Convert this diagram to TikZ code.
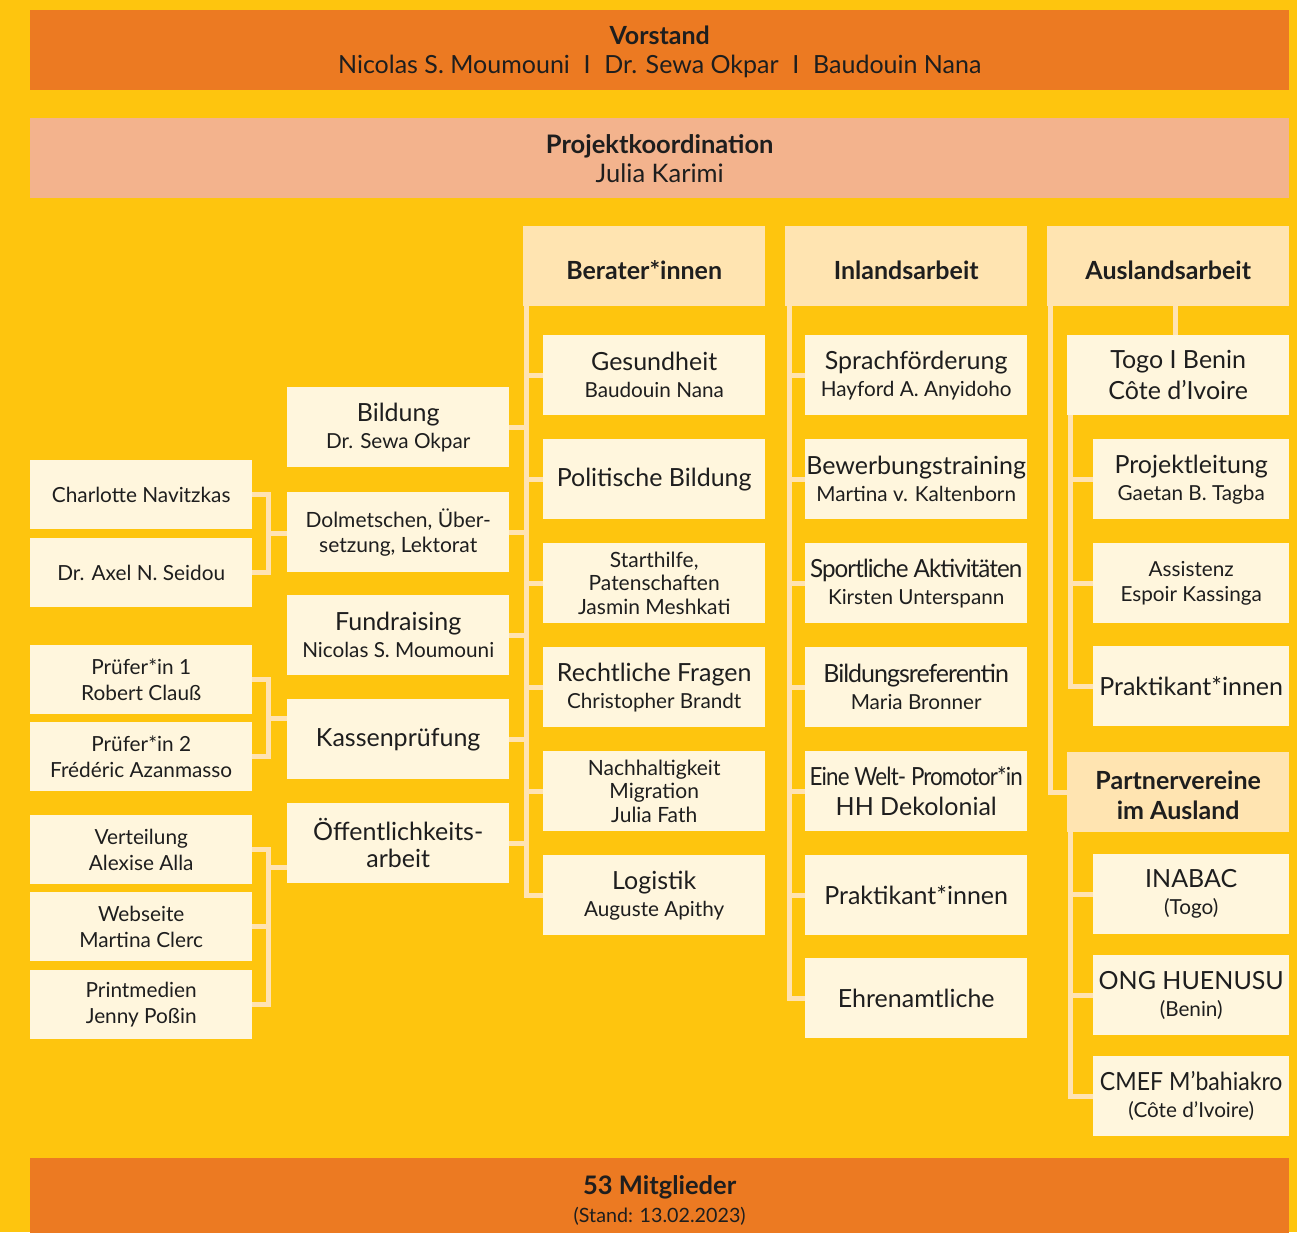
\documentclass[tikz,border=0pt]{standalone}
\usepackage{fontspec}
\usepackage{graphicx}
\setmainfont{Lato}
\newfontfamily\tightfont[LetterSpace=-4]{Lato}
\usetikzlibrary{calc}
\definecolor{bg}{HTML}{FEC50E}
\definecolor{orng}{HTML}{EC7A22}
\definecolor{peach}{HTML}{F3B38D}
\definecolor{hdr}{HTML}{FFE4B1}
\definecolor{cream}{HTML}{FFF6DD}
\definecolor{connc}{HTML}{FFE3B3}
\definecolor{txt}{HTML}{1E1E1E}
\newcommand\tbig{\fontsize{25}{30}\selectfont}
\newcommand\sepI{\hspace{.55em}I\hspace{.55em}}
\newcommand\lowr[2]{\raisebox{-#1}[\height][\depth]{#2}}
\begin{document}
\begin{tikzpicture}[x=1pt,y=-1pt,
  band/.style={anchor=north west, inner sep=0pt, minimum width=1259pt, minimum height=80pt, align=center, text=txt, font=\fontsize{25}{29}\selectfont},
  box/.style={anchor=north west, fill=cream, inner sep=0pt, minimum width=222pt, minimum height=80pt, align=center, text=txt, font=\fontsize{20.7}{27}\selectfont},
  sbox/.style={box, minimum width=196pt},
  lbox/.style={box, minimum height=69pt, font=\fontsize{20.8}{26}\selectfont},
  colhead/.style={anchor=north west, fill=hdr, inner sep=0pt, minimum width=242pt, minimum height=80pt, align=center, text=txt, font=\bfseries\fontsize{25}{30}\selectfont},
  three/.style={font=\fontsize{21}{23.5}\selectfont},
  conn/.style={draw=connc, line width=5pt}]
\useasboundingbox (0,0) rectangle (1297,1232);
\fill[bg] (0,0) rectangle (1297,1232);

% top and bottom bands
\node[band, fill=orng] (vor) at (30,10) {\lowr{2pt}{\textbf{Vorstand}}\\\lowr{2pt}{Nicolas S. Moumouni\sepI Dr. Sewa Okpar\sepI Baudouin Nana}};
\node[band, fill=peach, font=\fontsize{25.5}{29}\selectfont] (pko) at (30,118) {\textbf{Projektkoordination}\\Julia Karimi};
\node[band, fill=orng, minimum height=84pt, font=\fontsize{19.7}{28}\selectfont] (mit) at (30,1158) {\fontsize{25.5}{28}\selectfont\bfseries 53 Mitglieder\\(Stand: 13.02.2023)};

% column headers
\node[colhead] (ber) at (523,226) {\lowr{4pt}{Berater*innen}};
\node[colhead] (inl) at (785,226) {\lowr{4pt}{Inlandsarbeit}};
\node[colhead] (aus) at (1047,226) {\lowr{4pt}{Auslandsarbeit}};

% Berater*innen
\node[box] (ges) at (543,335) {\tbig Gesundheit\\Baudouin Nana};
\node[box] (pol) at (543,439) {\tbig Politische Bildung};
\node[box, three] (sta) at (543,543) {Starthilfe,\\Patenschaften\\Jasmin Meshkati};
\node[box] (rec) at (543,647) {\tbig Rechtliche Fragen\\Christopher Brandt};
\node[box, three] (nac) at (543,751) {Nachhaltigkeit\\Migration\\Julia Fath};
\node[box] (log) at (543,855) {\tbig Logistik\\Auguste Apithy};

% Inlandsarbeit
\node[box] (spr) at (805,335) {\tbig Sprachförderung\\Hayford A. Anyidoho};
\node[box] (bew) at (805,439) {\tbig Bewerbungstraining\\Martina v. Kaltenborn};
\node[box] (spo) at (805,543) {\tightfont\tbig\scalebox{0.968}[1]{Sportliche Aktivitäten}\\Kirsten Unterspann};
\node[box] (bre) at (805,647) {\tightfont\tbig Bildungsreferentin\\Maria Bronner};
\node[box, font=\fontsize{25}{30}\selectfont] (ein) at (805,751) {\tightfont\scalebox{0.895}[1]{Eine Welt- Promotor*in}\\HH Dekolonial};
\node[box] (prk) at (805,855) {\tbig Praktikant*innen};
\node[box] (ehr) at (805,958) {\tbig Ehrenamtliche};

% Auslandsarbeit
\node[box, font=\fontsize{25}{31}\selectfont] (tog) at (1067,335) {Togo I Benin\\Côte d’Ivoire};
\node[sbox] (prl) at (1093,439) {\tbig Projektleitung\\Gaetan B. Tagba};
\node[sbox, font=\fontsize{20.7}{25}\selectfont] (ass) at (1093,543) {Assistenz\\Espoir Kassinga};
\node[sbox] (prb) at (1093,646) {\tbig Praktikant*innen};
\node[box, fill=hdr, font=\bfseries\fontsize{25}{30}\selectfont] (par) at (1067,752) {\lowr{3pt}{Partnervereine}\\\lowr{3pt}{im Ausland}};
\node[sbox] (ina) at (1093,854) {\tbig INABAC\\(Togo)};
\node[sbox] (ong) at (1093,955) {\tbig ONG HUENUSU\\(Benin)};
\node[sbox] (cme) at (1093,1056) {\tbig\scalebox{0.923}[1]{CMEF M’bahiakro}\\(Côte d’Ivoire)};

% middle column
\node[box] (bil) at (287,387) {\tbig Bildung\\Dr. Sewa Okpar};
\node[box, font=\fontsize{21}{25}\selectfont] (dol) at (287,492) {Dolmetschen, Über-\\setzung, Lektorat};
\node[box] (fun) at (287,595) {\tbig Fundraising\\Nicolas S. Moumouni};
\node[box] (kas) at (287,699) {\tbig Kassenprüfung};
\node[box, font=\fontsize{25}{27}\selectfont] (oef) at (287,803) {Öffentlichkeits-\\arbeit};

% left column
\node[lbox] (cha) at (30,460) {Charlotte Navitzkas};
\node[lbox] (axe) at (30,538) {Dr. Axel N. Seidou};
\node[lbox] (pr1) at (30,645) {Prüfer*in 1\\Robert Clauß};
\node[lbox] (pr2) at (30,722) {Prüfer*in 2\\Frédéric Azanmasso};
\node[lbox] (ver) at (30,815) {Verteilung\\Alexise Alla};
\node[lbox] (web) at (30,892) {Webseite\\Martina Clerc};
\node[lbox] (pri) at (30,970) {Printmedien\\Jenny Poßin};

% trunk coordinates
\coordinate (btr) at ([xshift=3pt]ber.south west);
\coordinate (itr) at ([xshift=4pt]inl.south west);
\coordinate (atr) at ([xshift=3pt]aus.south west);
\coordinate (ttr) at ([xshift=3.5pt]tog.south west);
\coordinate (ptr) at ([xshift=3.5pt]par.south west);

% Berater connectors
\foreach \n in {ges,pol,sta,rec,nac,log} \draw[conn] (btr) |- (\n.west);
\foreach \n in {bil,dol,fun,kas,oef} \draw[conn] (\n.east) -- (\n.east -| btr);

% Inland connectors
\foreach \n in {spr,bew,spo,bre,ein,prk,ehr} \draw[conn] (itr) |- (\n.west);

% Ausland connectors
\draw[conn] (atr) |- (par.west);
\draw[conn] ([xshift=-2.5pt]tog.north) -- ([xshift=-2.5pt]tog.north |- aus.south);
\foreach \n in {prl,ass,prb} \draw[conn] (ttr) |- (\n.west);
\foreach \n in {ina,ong,cme} \draw[conn] (ptr) |- (\n.west);

% left brackets
\coordinate (k1) at ([xshift=16.5pt]$(cha.east)!.5!(axe.east)$);
\draw[conn] (cha.east) -| (k1) |- (axe.east);
\draw[conn] (k1) -- (k1 -| dol.west);
\coordinate (k2) at ([xshift=16.5pt]$(pr1.east)!.5!(pr2.east)$);
\draw[conn] (pr1.east) -| (k2) |- (pr2.east);
\draw[conn] (k2) -- (k2 -| kas.west);
\coordinate (k3) at ([xshift=16.5pt]web.east);
\draw[conn] (ver.east) -| (k3) |- (pri.east);
\draw[conn] (web.east) -- (k3);
\draw[conn] ([yshift=-24pt]oef.west) -- ([yshift=-24pt]oef.west -| k3);
\end{tikzpicture}
\end{document}
